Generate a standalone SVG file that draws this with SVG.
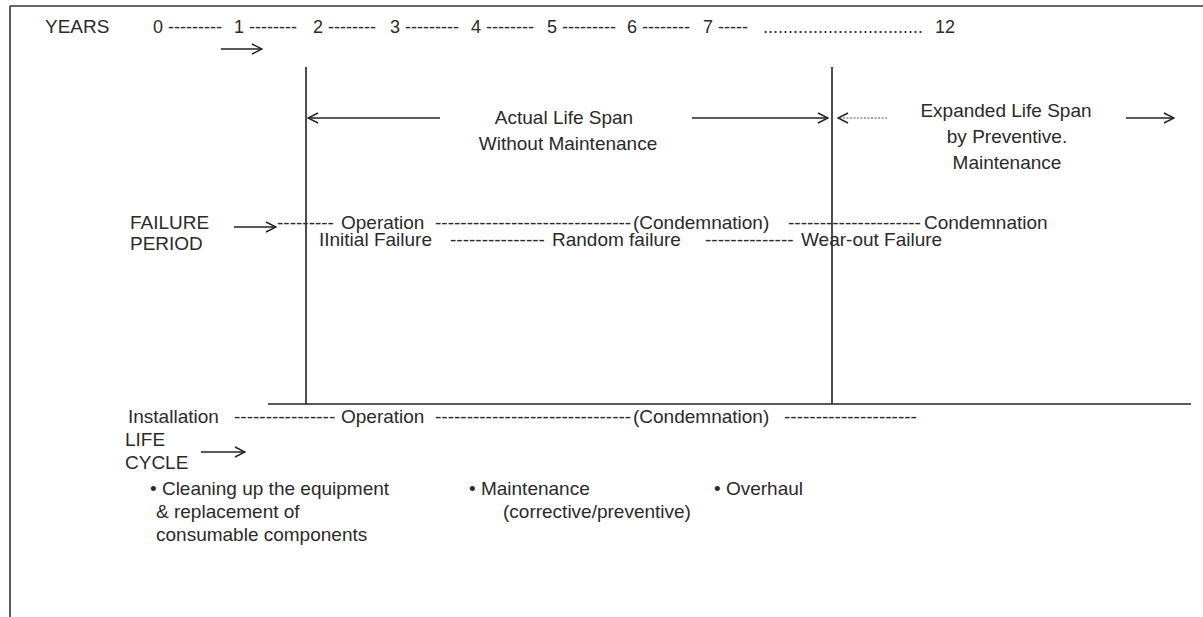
<svg xmlns="http://www.w3.org/2000/svg" width="1203" height="617" viewBox="0 0 1203 617">
  <defs>
    <style>
      text { font-family: "Liberation Sans", Arial, sans-serif; font-size: 19px; fill: #2a2a2a; }
      .yr { font-size: 18px; }
      .ln { stroke: #222; stroke-width: 1.6; fill: none; }
      .frame { stroke: #333; stroke-width: 1.6; fill: none; }
      .ar { stroke: #222; stroke-width: 1.4; fill: none; }
      .dot { stroke: #555; stroke-width: 1.2; fill: none; stroke-dasharray: 2 1.5; }
    </style>
    <marker id="head" viewBox="0 0 12 12" refX="11" refY="6" markerWidth="12" markerHeight="12" markerUnits="userSpaceOnUse" orient="auto">
      <path d="M1,1 L11,6 L1,11" fill="none" stroke="#222" stroke-width="1.4"/>
    </marker>
  </defs>
  <rect width="1203" height="617" fill="#ffffff"/>

  <g id="frame">
    <line class="frame" x1="10" y1="6" x2="1203" y2="6"/>
    <line class="frame" x1="10" y1="6" x2="10" y2="617"/>
  </g>

  <g id="connectors">
    <line class="ln" x1="306" y1="67" x2="306" y2="404"/>
    <line class="ln" x1="832" y1="67" x2="832" y2="404"/>
    <line class="ln" x1="268" y1="404" x2="1191" y2="404" stroke-width="2"/>
    <line class="ar" x1="221" y1="49" x2="262" y2="49" marker-end="url(#head)"/>
    <line class="ar" x1="440" y1="118" x2="308" y2="118" marker-end="url(#head)"/>
    <line class="ar" x1="692" y1="118" x2="828" y2="118" marker-end="url(#head)"/>
    <line class="dot" x1="887" y1="118" x2="838" y2="118" marker-end="url(#head)"/>
    <line class="ar" x1="1126" y1="118" x2="1174" y2="118" marker-end="url(#head)"/>
    <line class="ar" x1="234" y1="227" x2="276" y2="227" marker-end="url(#head)"/>
    <line class="ar" x1="201" y1="452" x2="245" y2="452" marker-end="url(#head)"/>
  </g>

  <g id="years">
    <text x="45" y="33">YEARS</text>
    <text class="yr" y="33"><tspan x="153">0 ---------</tspan><tspan x="234">1 --------</tspan><tspan x="313">2 --------</tspan><tspan x="390">3 ---------</tspan><tspan x="471">4 --------</tspan><tspan x="547">5 ---------</tspan><tspan x="627">6 --------</tspan><tspan x="703">7 -----</tspan><tspan x="763">................................</tspan><tspan x="935">12</tspan></text>
  </g>

  <g id="actual-life">
    <text x="564" y="124" text-anchor="middle">Actual Life Span</text>
    <text x="568" y="150" text-anchor="middle">Without Maintenance</text>
  </g>

  <g id="expanded-life">
    <text x="1006" y="117" text-anchor="middle">Expanded Life Span</text>
    <text x="1007" y="143" text-anchor="middle">by Preventive.</text>
    <text x="1007" y="169" text-anchor="middle">Maintenance</text>
  </g>

  <g id="failure-period">
    <text x="130" y="229">FAILURE</text>
    <text x="130" y="250">PERIOD</text>
    <text y="229"><tspan x="277">---------</tspan><tspan x="341">Operation</tspan><tspan x="435">-------------------------------</tspan><tspan x="633">(Condemnation)</tspan><tspan x="788">---------------------</tspan><tspan x="924">Condemnation</tspan></text>
    <text y="246"><tspan x="319">IInitial Failure</tspan><tspan x="450">---------------</tspan><tspan x="552">Random failure</tspan><tspan x="705">--------------</tspan><tspan x="801">Wear-out Failure</tspan></text>
  </g>

  <g id="life-cycle">
    <text y="423"><tspan x="128">Installation</tspan><tspan x="234">----------------</tspan><tspan x="341">Operation</tspan><tspan x="435">-------------------------------</tspan><tspan x="633">(Condemnation)</tspan><tspan x="784">---------------------</tspan></text>
    <text x="125" y="446">LIFE</text>
    <text x="125" y="469">CYCLE</text>
  </g>

  <g id="activities">
    <text x="150" y="495">• Cleaning up the equipment</text>
    <text x="156" y="518">&amp; replacement of</text>
    <text x="156" y="541">consumable components</text>
    <text x="469" y="495">• Maintenance</text>
    <text x="503" y="518">(corrective/preventive)</text>
    <text x="714" y="495">• Overhaul</text>
  </g>
</svg>
